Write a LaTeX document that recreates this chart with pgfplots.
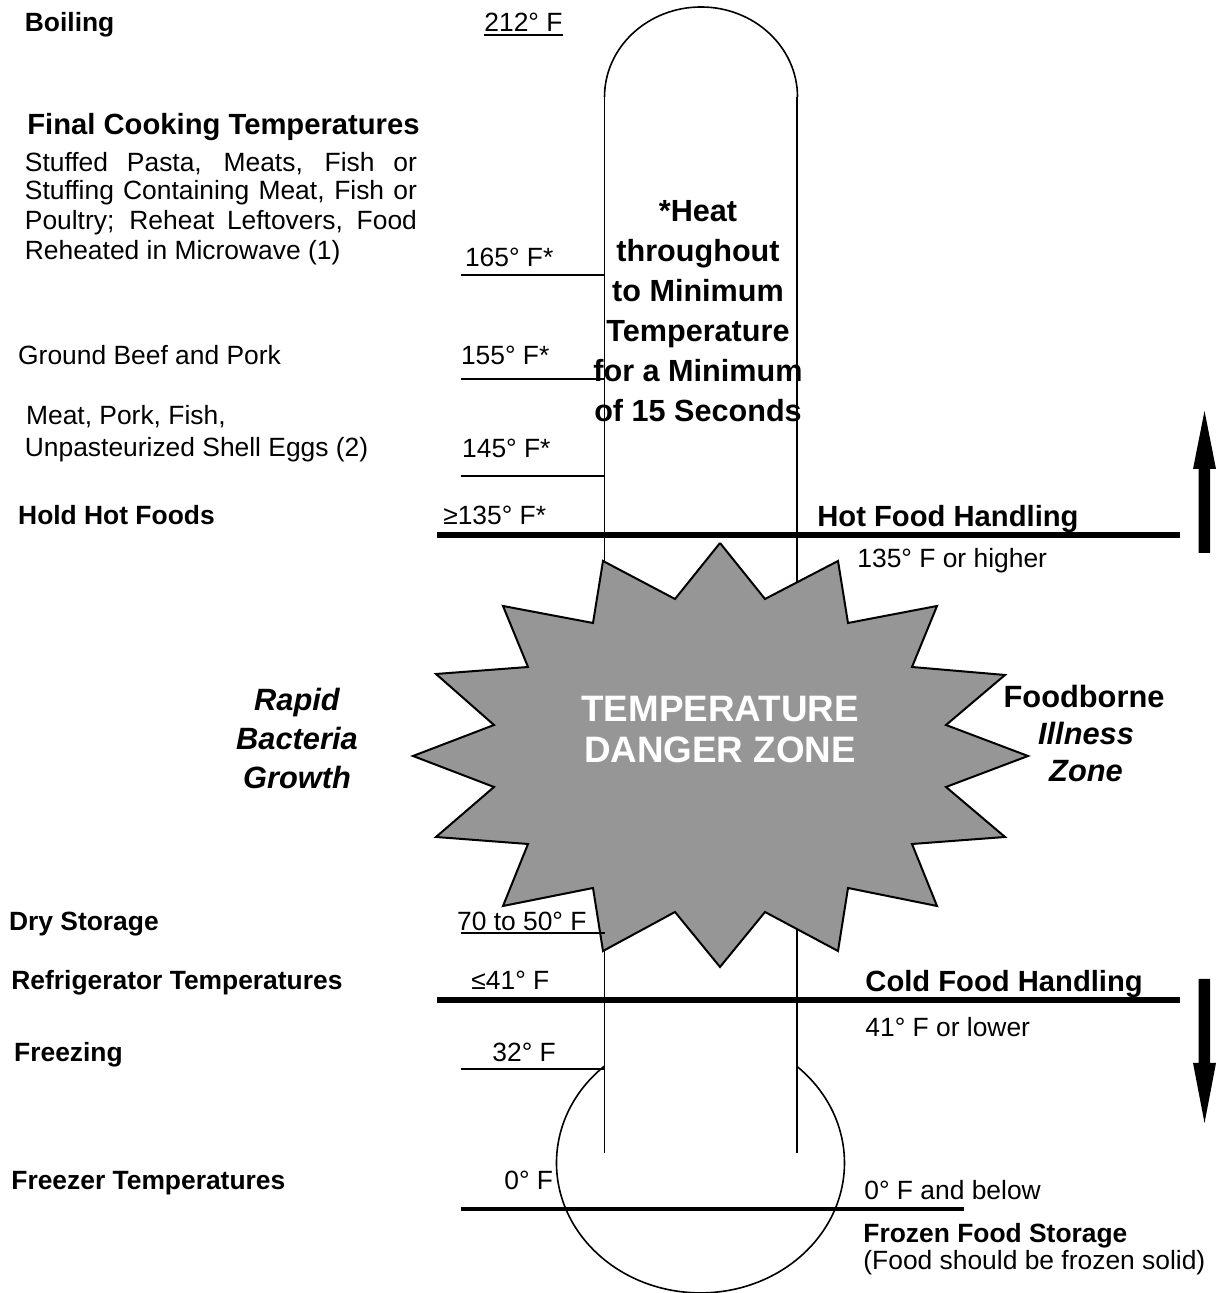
\documentclass[border=0pt]{standalone}
\usepackage{pgfplots}
\pgfplotsset{compat=1.18}
\usepackage{fontspec}
\setmainfont{Liberation Sans}
\definecolor{stargray}{RGB}{150,150,150}
\tikzset{thinl/.style={black, line width=1pt},
  tubel/.style={black, line width=0.8pt},
  thickl/.style={black, line width=3pt}}
\newcommand{\fn}{\fontsize{13.2}{14.5}\selectfont}
\newcommand{\fb}{\bfseries\fontsize{13.2}{14.5}\selectfont}
\newcommand{\fh}{\bfseries\fontsize{14.6}{16}\selectfont}
\newcommand{\ft}{\bfseries\fontsize{15.3}{18}\selectfont}
\newcommand{\fbi}{\bfseries\itshape\fontsize{15.4}{18}\selectfont}
\newcommand{\fbu}{\bfseries\fontsize{15.4}{18}\selectfont}
\newcommand{\fd}{\bfseries\fontsize{18.4}{20}\selectfont}
\newcommand{\lbl}[4]{\node[anchor=base west,inner sep=0pt,font=#3] at (axis cs:#1,-#2) {#4};}
\newcommand{\ctr}[4]{\node[anchor=base,inner sep=0pt,font=#3] at (axis cs:#1,-#2) {#4};}
\begin{document}
\begin{tikzpicture}
\begin{axis}[scale only axis, width=607.5pt, height=646.5pt,
  xmin=0, xmax=1215, ymin=-1293, ymax=0, axis lines=none, clip=false]
% thermometer tube
\addplot[tubel] coordinates {(604.5,-97) (604.5,-1153)};
\addplot[tubel] coordinates {(797,-97) (797,-1153)};
\draw[tubel] (axis cs:604.5,-97) arc[start angle=180, end angle=0, x radius=48.25pt, y radius=45pt];
\draw[tubel] (axis cs:604.5,-1066) arc[start angle=131.8, end angle=407.6, x radius=72pt, y radius=65pt];
% temperature lines
\addplot[thinl] coordinates {(484,-35) (563,-35)};
\addplot[thinl] coordinates {(460.6,-275) (604.5,-275)};
\addplot[thinl] coordinates {(460.6,-379) (604.5,-379)};
\addplot[thinl] coordinates {(460.6,-476) (604.5,-476)};
\addplot[thickl] coordinates {(437,-535) (1180,-535)};
\addplot[thickl] coordinates {(437,-1000) (1180,-1000)};
\addplot[thinl] coordinates {(460.6,-1069) (604.5,-1069)};
\addplot[black, line width=1.7pt] coordinates {(460.6,-1209) (964,-1209)};
% danger zone star
\addplot[fill=stargray, draw=black, line width=1pt, line join=miter] coordinates {
(720,-543) (765,-599) (838,-561) (848,-623) (937,-606) (912,-667) (1005,-675) (946,-725)
(1028,-756) (946,-787) (1005,-837) (912,-844) (937,-906) (848,-888) (838,-951) (765,-912)
(720,-967) (675,-912) (603,-951) (593,-888) (503,-906) (528,-844) (436,-837) (494,-787)
(413,-756) (494,-725) (436,-674) (528,-667) (503,-606) (593,-623) (603,-561) (675,-599)
(720,-543)};
\addplot[thinl] coordinates {(460.6,-933) (605,-933)};
% arrows
\addplot[fill=black, draw=none] coordinates {(1198.5,-553) (1210,-553) (1210,-469) (1216,-469) (1204.5,-411) (1193,-469) (1198.5,-469) (1198.5,-553)};
\addplot[fill=black, draw=none] coordinates {(1198.5,-979) (1210,-979) (1210,-1063) (1216,-1063) (1204.5,-1123) (1193,-1063) (1198.5,-1063) (1198.5,-979)};
% left labels
\lbl{24.5}{32}{\fb}{Boiling}
\lbl{484}{32}{\fn}{212° F}
\lbl{27}{135}{\fh}{Final Cooking Temperatures}
\lbl{24.5}{172}{\fn}{\makebox[196pt][s]{Stuffed Pasta, Meats, Fish or}}
\lbl{24.5}{200}{\fn}{\makebox[196pt][s]{Stuffing Containing Meat, Fish or}}
\lbl{24.5}{230}{\fn}{\makebox[196pt][s]{Poultry; Reheat Leftovers, Food}}
\lbl{24.5}{260}{\fn}{Reheated in Microwave (1)}
\lbl{464.6}{267}{\fn}{165° F*}
\lbl{17.8}{365}{\fn}{Ground Beef and Pork}
\lbl{460.6}{365}{\fn}{155° F*}
\lbl{25.7}{425}{\fn}{Meat, Pork, Fish,}
\lbl{24.5}{457}{\fn}{Unpasteurized Shell Eggs (2)}
\lbl{461.8}{458}{\fn}{145° F*}
\lbl{17.8}{525}{\fb}{Hold Hot Foods}
\lbl{442.9}{525}{\fn}{≥135° F*}
\lbl{8.7}{931}{\fb}{Dry Storage}
\lbl{456.7}{931}{\fn}{70 to 50° F}
\lbl{11}{990}{\fb}{Refrigerator Temperatures}
\lbl{471}{990}{\fn}{≤41° F}
\lbl{13.8}{1062}{\fb}{Freezing}
\lbl{492}{1062}{\fn}{32° F}
\lbl{11}{1190}{\fb}{Freezer Temperatures}
\lbl{504}{1190}{\fn}{0° F}
% right labels
\lbl{817}{527}{\fh}{Hot Food Handling}
\lbl{857}{568}{\fn}{135° F or higher}
\lbl{865}{992}{\fh}{Cold Food Handling}
\lbl{865}{1037}{\fn}{41° F or lower}
\lbl{864}{1200}{\fn}{0° F and below}
\lbl{863}{1243}{\fb}{Frozen Food Storage}
\lbl{863}{1270}{\fn}{(Food should be frozen solid)}
% tube text
\ctr{698}{222}{\ft}{*Heat}
\ctr{698}{262}{\ft}{throughout}
\ctr{698}{302}{\ft}{to Minimum}
\ctr{698}{342}{\ft}{Temperature}
\ctr{698}{382}{\ft}{for a Minimum}
\ctr{698}{422}{\ft}{of 15 Seconds}
% side texts
\ctr{297}{711}{\fbi}{Rapid}
\ctr{297}{750}{\fbi}{Bacteria}
\ctr{297}{789}{\fbi}{Growth}
\ctr{1084}{708}{\fbu}{Foodborne}
\ctr{1086}{745}{\fbi}{Illness}
\ctr{1086}{782}{\fbi}{Zone}
% danger zone text
\node[anchor=base,inner sep=0pt,font=\fd,text=white] at (axis cs:720,-722) {TEMPERATURE};
\node[anchor=base,inner sep=0pt,font=\fd,text=white] at (axis cs:720,-763) {DANGER ZONE};
\end{axis}
\pgfresetboundingbox
\path[use as bounding box] (current axis.south west) rectangle (current axis.north east);
\end{tikzpicture}
\end{document}
